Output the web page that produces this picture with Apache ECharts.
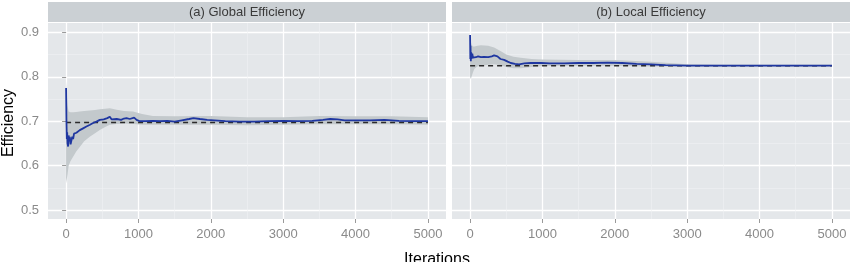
<!DOCTYPE html>
<html>
<head>
<meta charset="utf-8">
<script src="https://cdn.jsdelivr.net/npm/echarts@6/dist/echarts.min.js"></script>
<style>
html,body{margin:0;padding:0;background:#fff;}
#c{width:855px;height:262px;}
</style>
</head>
<body>
<div id="c"></div>
<script>
// ---- data ----
const panelTitles = ['(a) Global Efficiency', '(b) Local Efficiency'];
const xTicks = [0, 1000, 2000, 3000, 4000, 5000];
const yTicks = [0.5, 0.6, 0.7, 0.8, 0.9];
const xTitle = 'Iterations';
const yTitle = 'Efficiency';

// (a) Global efficiency: running mean
const iterG = [0, 5, 10, 15, 20, 28, 35, 45, 51, 62, 74, 85, 97, 110, 120, 143, 165, 189, 235, 281, 330, 373, 420, 466, 520, 570, 604, 630, 650, 700, 760, 800, 835, 880, 940, 974, 1019, 1100, 1200, 1300, 1400, 1500, 1600, 1700, 1760, 1850, 1950, 2050, 2200, 2400, 2600, 2800, 3000, 3200, 3400, 3550, 3650, 3750, 3850, 4000, 4200, 4400, 4600, 4800, 5000];
const effG  = [0.775, 0.70, 0.66, 0.675, 0.65, 0.643, 0.668, 0.655, 0.665, 0.648, 0.652, 0.665, 0.660, 0.672, 0.668, 0.674, 0.676, 0.680, 0.684, 0.688, 0.692, 0.696, 0.699, 0.703, 0.704, 0.707, 0.710, 0.704, 0.704, 0.705, 0.703, 0.706, 0.707, 0.705, 0.708, 0.703, 0.700, 0.700, 0.701, 0.700, 0.701, 0.699, 0.702, 0.705, 0.707, 0.705, 0.703, 0.702, 0.700, 0.699, 0.699, 0.700, 0.701, 0.700, 0.701, 0.703, 0.705, 0.704, 0.702, 0.702, 0.702, 0.703, 0.701, 0.700, 0.700];
const ribIterG = [0, 10, 20, 35, 60, 97, 140, 189, 250, 327, 400, 466, 540, 604, 700, 800, 925, 1050, 1200, 1500, 2000, 2500, 3000, 3500, 4000, 4500, 5000];
const ribLowG  = [0.56, 0.57, 0.58, 0.60, 0.61, 0.62, 0.632, 0.642, 0.655, 0.665, 0.673, 0.680, 0.687, 0.692, 0.694, 0.695, 0.694, 0.692, 0.692, 0.692, 0.692, 0.691, 0.692, 0.693, 0.693, 0.693, 0.692];
const ribHighG = [0.79, 0.76, 0.735, 0.722, 0.720, 0.720, 0.721, 0.722, 0.723, 0.724, 0.725, 0.727, 0.728, 0.729, 0.726, 0.723, 0.722, 0.716, 0.712, 0.711, 0.712, 0.709, 0.709, 0.712, 0.711, 0.711, 0.709];
const refG = 0.697;

// (b) Local efficiency: running mean
const iterL = [0, 3, 6, 10, 15, 20, 30, 40, 55, 80, 110, 150, 193, 250, 300, 332, 378, 420, 470, 520, 562, 620, 677, 750, 838, 977, 1100, 1300, 1500, 1700, 1900, 2100, 2300, 2500, 2700, 3000, 3500, 4000, 4500, 5000];
const effL  = [0.894, 0.840, 0.870, 0.835, 0.855, 0.840, 0.852, 0.843, 0.846, 0.844, 0.846, 0.844, 0.845, 0.844, 0.846, 0.848, 0.846, 0.840, 0.838, 0.834, 0.831, 0.829, 0.828, 0.830, 0.831, 0.831, 0.830, 0.830, 0.831, 0.831, 0.832, 0.831, 0.829, 0.828, 0.826, 0.825, 0.825, 0.825, 0.825, 0.825];
const ribIterL = [0, 10, 20, 40, 60, 100, 150, 250, 332, 420, 500, 600, 700, 850, 1000, 1500, 2000, 2500, 3000, 3500, 4000, 5000];
const ribHighL = [0.895, 0.880, 0.872, 0.868, 0.868, 0.870, 0.871, 0.870, 0.866, 0.858, 0.850, 0.845, 0.843, 0.840, 0.839, 0.838, 0.838, 0.834, 0.828, 0.827, 0.827, 0.827];
const ribLowL  = [0.800, 0.795, 0.800, 0.810, 0.818, 0.823, 0.825, 0.827, 0.828, 0.826, 0.822, 0.819, 0.819, 0.822, 0.824, 0.825, 0.825, 0.823, 0.823, 0.823, 0.823, 0.823];
const refL = 0.825;

// ---- chart ----
const FONT = 'Liberation Sans, Arial, Helvetica, sans-serif';
const zip = (xs, ys) => xs.map((x, i) => [x, ys[i]]);

const PANEL_BG = '#e4e7ea';
const STRIP_BG = '#cbd0d4';
const RIBBON = '#c3c9cc';
const LINE = '#1f37a1';

const grids = [
  {left: 48, top: 23, width: 398, height: 196},
  {left: 452, top: 23, width: 398, height: 196}
];

function xAxisCfg(i) {
  return {
    type: 'value', gridIndex: i, min: -250, max: 5250,
    axisLine: {show: false},
    axisTick: {show: true, length: 4, lineStyle: {color: '#9a9a9a', width: 1}, customValues: xTicks},
    axisLabel: {color: '#8a8a8a', fontSize: 13, fontFamily: FONT, margin: 9, customValues: xTicks, formatter: v => String(v)},
    splitLine: {show: true, lineStyle: {color: '#ffffff', width: 1.3}},
    minorTick: {show: false, splitNumber: 2},
    minorSplitLine: {show: true, lineStyle: {color: '#f0f2f3', width: 0.6}}
  };
}
function yAxisCfg(i) {
  return {
    type: 'value', gridIndex: i, min: 0.48, max: 0.921,
    axisLine: {show: false},
    axisTick: {show: i === 0, length: 4, lineStyle: {color: '#9a9a9a', width: 1}, customValues: yTicks},
    axisLabel: {show: i === 0, color: '#8a8a8a', fontSize: 13, fontFamily: FONT, margin: 9, customValues: yTicks, formatter: v => v.toFixed(1)},
    splitLine: {show: true, lineStyle: {color: '#ffffff', width: 1.3}},
    minorTick: {show: false, splitNumber: 2},
    minorSplitLine: {show: true, lineStyle: {color: '#f0f2f3', width: 0.6}}
  };
}

function panelSeries(i, ribIter, ribLow, ribHigh, iter, eff, ref) {
  return [
    {type: 'custom', xAxisIndex: i, yAxisIndex: i, silent: true, z: 2, clip: true,
     data: ribIter.map((x, k) => [x, ribLow[k], ribHigh[k]]),
     encode: {x: 0, y: [1, 2]},
     renderItem: function (params, api) {
       if (params.dataIndex !== 0) return null;
       const top = ribIter.map((x, k) => api.coord([x, ribHigh[k]]));
       const bottom = ribIter.map((x, k) => api.coord([x, ribLow[k]])).reverse();
       return {type: 'polygon', shape: {points: top.concat(bottom)}, style: {fill: RIBBON}};
     }},
    {type: 'line', xAxisIndex: i, yAxisIndex: i, data: [[0, ref], [5000, ref]],
     symbol: 'none', silent: true, lineStyle: {color: '#2b2b2b', width: 1.5, type: [5, 4]}, z: 3},
    {type: 'line', xAxisIndex: i, yAxisIndex: i, data: zip(iter, eff),
     symbol: 'none', silent: true, lineStyle: {color: LINE, width: 1.8}, z: 4}
  ];
}

const chart = echarts.init(document.getElementById('c'), null, {renderer: 'canvas'});
chart.setOption({
  animation: false,
  backgroundColor: '#ffffff',
  grid: grids.map(g => Object.assign({show: true, backgroundColor: PANEL_BG, borderWidth: 0, containLabel: false, outerBoundsMode: 'none'}, g)),
  xAxis: [xAxisCfg(0), xAxisCfg(1)],
  yAxis: [yAxisCfg(0), yAxisCfg(1)],
  series: [].concat(
    panelSeries(0, ribIterG, ribLowG, ribHighG, iterG, effG, refG),
    panelSeries(1, ribIterL, ribLowL, ribHighL, iterL, effL, refL)
  ),
  graphic: [
    {type: 'rect', shape: {x: 48, y: 2, width: 398, height: 20}, style: {fill: STRIP_BG}, silent: true},
    {type: 'rect', shape: {x: 452, y: 2, width: 398, height: 20}, style: {fill: STRIP_BG}, silent: true},
    {type: 'text', x: 247, y: 12, style: {text: panelTitles[0], fill: '#3a3a3a', font: '13px ' + FONT, textAlign: 'center', textVerticalAlign: 'middle'}, silent: true},
    {type: 'text', x: 651, y: 12, style: {text: panelTitles[1], fill: '#3a3a3a', font: '13px ' + FONT, textAlign: 'center', textVerticalAlign: 'middle'}, silent: true},
    {type: 'text', x: 437, y: 260, style: {text: xTitle, fill: '#000', font: '16px ' + FONT, textAlign: 'center', textVerticalAlign: 'middle'}, silent: true},
    {type: 'text', x: 9, y: 123, rotation: Math.PI / 2, style: {text: yTitle, fill: '#000', font: '16px ' + FONT, textAlign: 'center', textVerticalAlign: 'middle'}, silent: true}
  ]
});
</script>
</body>
</html>
